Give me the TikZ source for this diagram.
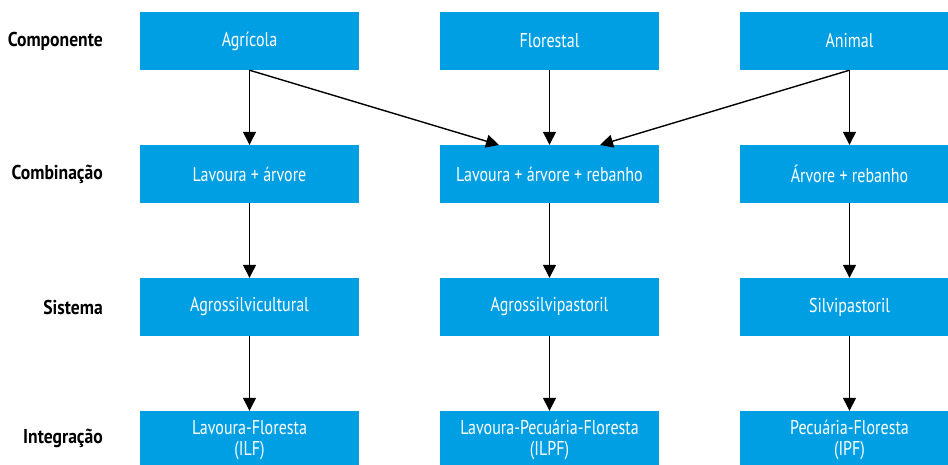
\documentclass[tikz,border=0pt]{standalone}
\usepackage{fontspec}
\setmainfont{PT Sans}[FakeStretch=0.8, BoldFeatures={FakeStretch=0.88}]
\usetikzlibrary{arrows.meta}
\definecolor{boxblue}{HTML}{009FE3}
\tikzset{
  box/.style={fill=boxblue, draw=none, minimum width=219pt, minimum height=58pt, inner sep=0pt,
    text=white, font=\fontsize{20}{21.5}\selectfont, align=center},
  rowlabel/.style={anchor=east, font=\fontsize{20}{21}\selectfont\bfseries, inner sep=0pt},
  conn/.style={draw=black, line width=1.4pt, -{Triangle[length=13pt,width=13pt]}}
}
\begin{document}
\begin{tikzpicture}[x=1pt,y=-1pt]
\useasboundingbox (0,0) rectangle (948,465);
\clip (0,0) rectangle (948,465);
% row labels
\node[rowlabel] (l1) at (103,41) {Componente};
\node[rowlabel] (l2) at (103,174) {Combinação};
\node[rowlabel] (l3) at (103,307) {Sistema};
\node[rowlabel] (l4) at (103,438) {Integração};
% boxes
\node[box] (a1) at (249.5,41) {Agrícola};
\node[box] (b1) at (549.5,41) {Florestal};
\node[box] (c1) at (849.5,41) {Animal};
\node[box] (a2) at (249.5,174) {Lavoura + árvore};
\node[box] (b2) at (549.5,174) {Lavoura + árvore + rebanho};
\node[box] (c2) at (849.5,174) {Árvore + rebanho};
\node[box] (a3) at (249.5,307) {Agrossilvicultural};
\node[box] (b3) at (549.5,307) {Agrossilvipastoril};
\node[box] (c3) at (849.5,307) {Silvipastoril};
\node[box] (a4) at (249.5,440) {Lavoura-Floresta\\(ILF)};
\node[box] (b4) at (549.5,440) {Lavoura-Pecuária-Floresta\\(ILPF)};
\node[box] (c4) at (849.5,440) {Pecuária-Floresta\\(IPF)};
% coordinates for diagonal arrow ends
\coordinate (b2l) at (499,145);
\coordinate (b2r) at (600,145);
% connectors
\draw[conn] (a1.south) -- (a2.north);
\draw[conn] (a1.south) -- (b2l);
\draw[conn] (b1.south) -- (b2.north);
\draw[conn] (c1.south) -- (b2r);
\draw[conn] (c1.south) -- (c2.north);
\draw[conn] (a2.south) -- (a3.north);
\draw[conn] (b2.south) -- (b3.north);
\draw[conn] (c2.south) -- (c3.north);
\draw[conn] (a3.south) -- (a4.north);
\draw[conn] (b3.south) -- (b4.north);
\draw[conn] (c3.south) -- (c4.north);
\end{tikzpicture}
\end{document}
